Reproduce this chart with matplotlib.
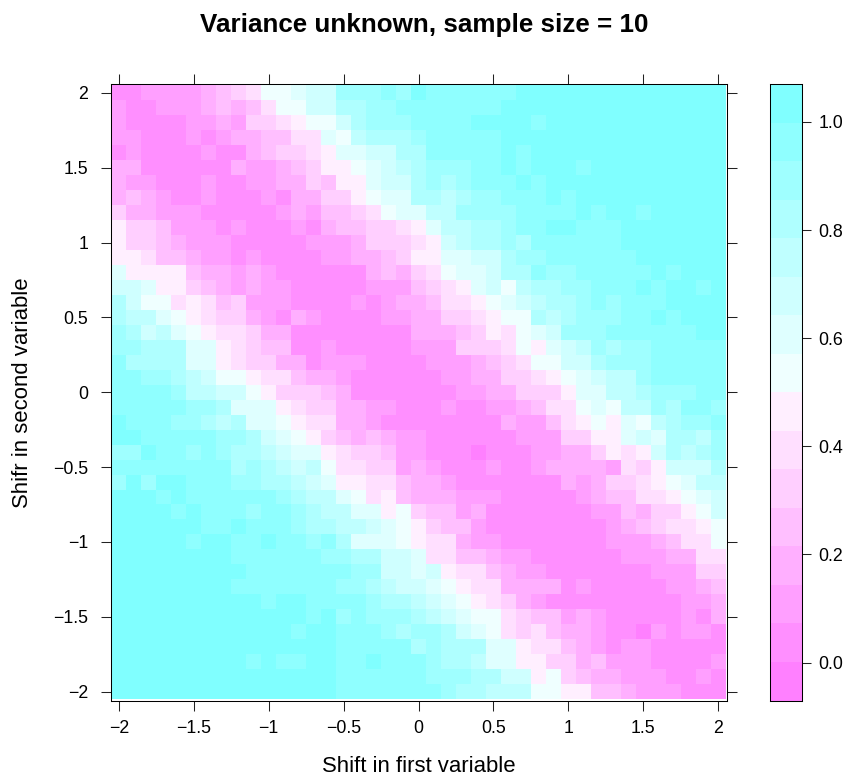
import numpy as np
import matplotlib
matplotlib.use("Agg")
import matplotlib.pyplot as plt
from matplotlib.colors import ListedColormap, BoundaryNorm

plt.rcParams["font.family"] = ["Liberation Sans", "DejaVu Sans"]

x_shift = np.arange(-20, 21) / 10
y_shift = np.arange(20, -21, -1) / 10

# colour bin read for every cell (hex digit, 0 = lowest bin), top row first
# one list per block of columns: 13 on the left, 14 in the middle, 14 on the right
bins_left = [
    "1122223456889", "2112223434688", "2111122325567", "2211121233446", "1211112113455",
    "3311111132234", "3221112112233", "3432112111213", "5332221111123", "7554222121112",
    "7554322211111", "7764432212111", "9777743323211", "aa97754323221", "ca88676452221",
    "cbb9876553213", "dcab987665331", "ddccc99765441", "ecccc99765533", "eeddcba887664",
    "eeeedbbaa8755", "eeeeeddc99976", "feeeddcbc9987", "ffeeeeeddca98", "ddfeededccba9",
    "eeeeeeeecdcba", "dfdffeeeddccb", "fffefeeeeeedc", "ffffefeeedeed", "ffffffeefeeed",
    "fffffeffeefee", "ffffffffeeeee", "fffffffffeeee", "ffffffffeeeee", "ffffffffffeff",
    "fffffffffffff", "ffffffffffffe", "fffffffffffff", "fffffffffefee", "fffffffffffff",
    "fffffffffffff",
]
bins_mid = [
    "aadddedfeeeeee", "aaccddeeeeeeef", "88acdddeeeefff", "698bcccdeeeeef", "6799aacceeeeef",
    "57789abcdddeef", "54779aacdcdeee", "3557899ccbcdde", "24456899bbdddd", "134455679bbccd",
    "222355567abccd", "12233457799aac", "111134356899ac", "111122245679a8", "11121233466789",
    "21111223355678", "11111113334576", "12111112225556", "12221111222345", "33211111122335",
    "54311111112233", "55332211121122", "66332111111113", "75434322111111", "97655422111011",
    "b8665523211121", "a9776643321111", "bb986743332221", "cbb99785442311", "ccbba987544211",
    "dec99987663221", "eddccaa9664432", "eeeddaa9a76643", "eeddcbaa987663", "eeeedccba98765",
    "efdedddcba9886", "ffeeedcddca986", "ffeeeeecdccc99", "ffeefeeedccb99", "ffeeeeeedddcca",
    "ffeeeeeeedccbb",
]
bins_right = [
    "ffffffffffffff", "ffffffffffffff", "feffffffffffff", "ffffffffffffff", "efffffffffffff",
    "efffefffffffff", "feffffffffffff", "eefeffffffffff", "eeeefeffefffff", "eeffeeefffffff",
    "ceeeeeefffffff", "ddeeeeeeffffff", "ceddeeeeefefff", "bccddeeefeffef", "abccdedeeeffff",
    "8cbcdddeefefff", "89adddeeeeeeff", "879abdcddeeeee", "688aacdddeeeee", "56789abbdeeeee",
    "555799bbcdddee", "3466898bbdceed", "224678798bcdde", "22255779a9ccbd", "122335767acbcd",
    "1233332657aaac", "111323556789bb", "1111234466789a", "1111122435578a", "11111123456678",
    "11111122234668", "21111112223366", "22111111122255", "33312111112234", "32111111111223",
    "54423211111213", "56433211021221", "76643212211111", "77553422211112", "a7854332221121",
    "b8877443222111",
]

x_label = "Shift in first variable"
y_label = "Shifr in second variable"
title = "Variance unknown, sample size = 10"
axis_ticks = [-2, -1.5, -1, -0.5, 0, 0.5, 1, 1.5, 2]
axis_tick_labels = ["\u22122", "\u22121.5", "\u22121", "\u22120.5", "0", "0.5", "1", "1.5", "2"]
bar_ticks = [0.0, 0.2, 0.4, 0.6, 0.8, 1.0]
bar_tick_labels = ["0.0", "0.2", "0.4", "0.6", "0.8", "1.0"]

n_bins = 16
breaks = np.linspace(-0.07, 1.07, n_bins + 1)
mids = (breaks[:-1] + breaks[1:]) / 2

rows = [a + b + c for a, b, c in zip(bins_left, bins_mid, bins_right)]
power = np.array([[mids[int(ch, 16)] for ch in row] for row in rows])

# same as R cm.colors(16), magenta at the low end
sat = np.linspace(0.5, 0.0625, 8)
colours = [(1, 1 - s, 1) for s in sat] + [(1 - s, 1, 1) for s in sat[::-1]]
cmap = ListedColormap(colours)
norm = BoundaryNorm(breaks, n_bins)

W, H = 849, 780
fig = plt.figure(figsize=(W / 100, H / 100), dpi=100)


def px_axes(left, top, right, bottom):
    return fig.add_axes([left / W, 1 - bottom / H, (right - left) / W, (bottom - top) / H])


ax = px_axes(110.5, 84, 726.5, 700.5)
ax.pcolormesh(x_shift, y_shift, power, cmap=cmap, norm=norm, shading="nearest", antialiased=False)
ax.set_xlim(-2.056, 2.056)
ax.set_ylim(-2.06, 2.06)
ax.set_xticks(axis_ticks, axis_tick_labels)
ax.set_yticks(axis_ticks, axis_tick_labels)
ax.tick_params(top=True, right=True, length=7.4, width=0.75, labelsize=12.8, color="#222222")
ax.tick_params(axis="x", pad=6.5)
ax.tick_params(axis="y", pad=8.5)
for s in ax.spines.values():
    s.set_linewidth(0.75)

cax = px_axes(769.5, 84, 801.5, 700.5)
cax.pcolormesh([0, 1], breaks, mids[:, None], cmap=cmap, norm=norm, antialiased=False)
cax.set_ylim(breaks[0], breaks[-1])
cax.set_xticks([])
cax.yaxis.tick_right()
cax.set_yticks(bar_ticks, bar_tick_labels)
cax.tick_params(length=6.5, width=0.75, labelsize=12.8, pad=5.5, color="#222222")
for s in cax.spines.values():
    s.set_linewidth(0.75)

fig.text(424.5 / W, 1 - 25 / H, title, ha="center", va="center", fontsize=18.7, fontweight="bold")
fig.text(419 / W, 1 - 766 / H, x_label, ha="center", va="center", fontsize=15.9)
fig.text(23 / W, 1 - 393 / H, y_label, ha="center", va="center", rotation=90, fontsize=15.9)

fig.savefig("out.png", dpi=100)
